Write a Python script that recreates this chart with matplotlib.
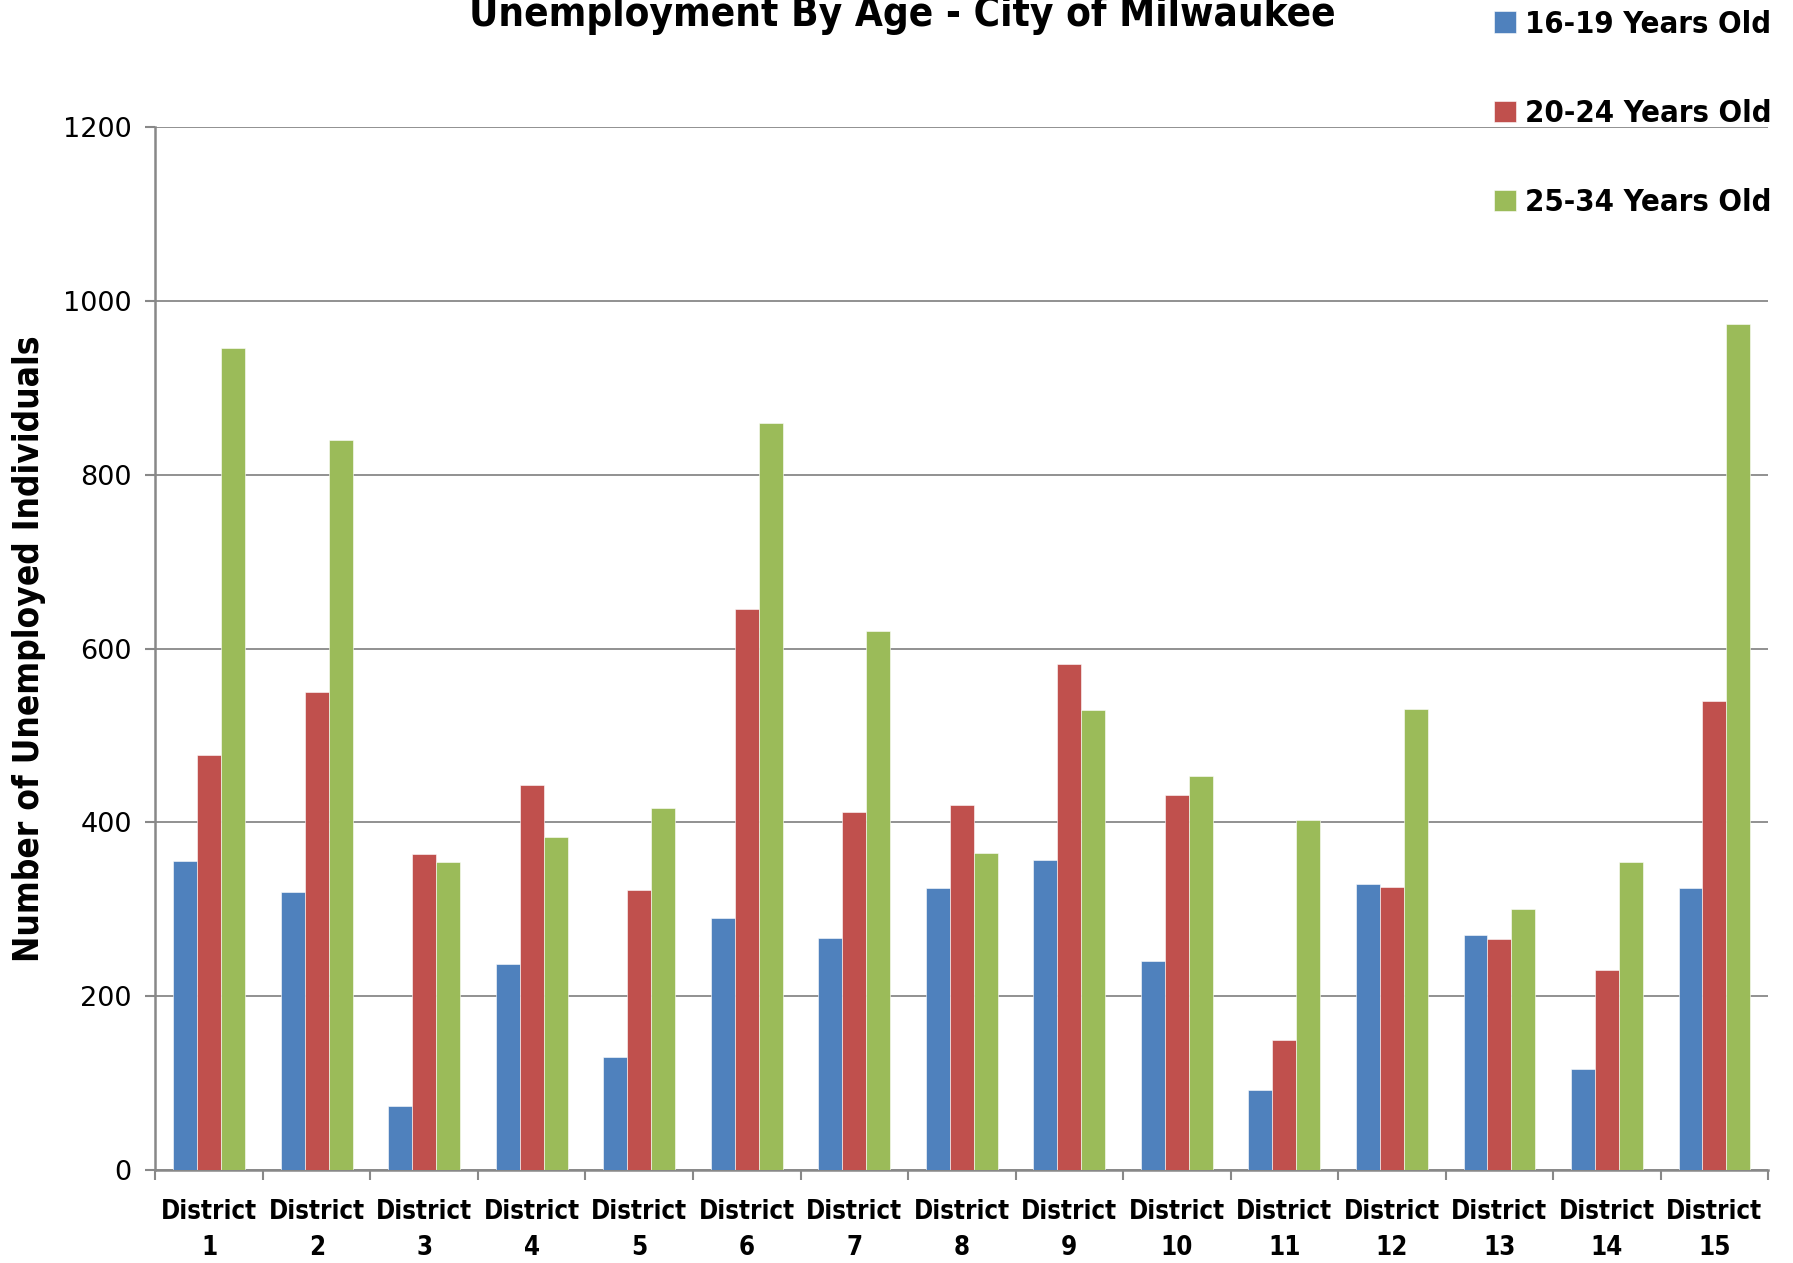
import matplotlib
matplotlib.use("Agg")
import matplotlib.pyplot as plt
from matplotlib import font_manager as fm
import numpy as np

# Data
districts = [f"District\n{i}" for i in range(1, 16)]
age_16_19 = [355, 320, 74, 237, 130, 290, 267, 324, 357, 241, 92, 329, 271, 116, 325]
age_20_24 = [478, 550, 364, 443, 322, 646, 412, 420, 582, 432, 150, 326, 266, 230, 540]
age_25_34 = [946, 840, 354, 383, 416, 859, 620, 365, 529, 453, 403, 530, 300, 354, 973]
series_labels = ["16-19 Years Old", "20-24 Years Old", "25-34 Years Old"]
colors = ["#4F81BD", "#C0504D", "#9BBB59"]


def condensed_bold():
    """Find a condensed bold face, else fall back to DejaVu Sans bold."""
    for key in ("DejaVuSansCondensed-Bold", "LiberationSansNarrow-Bold."):
        for f in fm.fontManager.ttflist:
            if key in f.fname:
                return f.fname, 1.0
    return None, 0.88


def fp(size, fname, scale):
    if fname:
        return fm.FontProperties(fname=fname, size=size)
    return fm.FontProperties(family="DejaVu Sans", weight="bold", size=size * scale)


def main():
    fname, scale = condensed_bold()

    fig = plt.figure(figsize=(17.93, 12.63), dpi=100)
    ax = fig.add_axes([0.0867, 0.0736, 0.8994, 0.8258])

    x = np.arange(len(districts))
    width = 0.222
    for i, vals in enumerate([age_16_19, age_20_24, age_25_34]):
        ax.bar(x + (i - 1) * width, vals, width, color=colors[i],
               edgecolor="white", linewidth=0.4, label=series_labels[i], zorder=3)

    ax.set_xlim(-0.5, len(districts) - 0.5)
    ax.set_ylim(0, 1200)
    ax.set_yticks(range(0, 1201, 200))
    ax.tick_params(axis="y", labelsize=19.5, length=7, width=1.5, color="#888888", pad=10)
    ax.yaxis.grid(True, color="#888888", linewidth=1.3, zorder=0)

    # category boundaries as ticks, labels at centres
    ax.set_xticks(np.arange(-0.5, len(districts)), minor=False)
    ax.set_xticklabels([])
    ax.set_xticks(x, minor=True)
    ax.set_xticklabels(districts, minor=True, fontproperties=fp(18.5, fname, scale),
                       linespacing=1.5)
    ax.tick_params(axis="x", which="major", length=7, width=1.5, color="#888888")
    ax.tick_params(axis="x", which="minor", length=0, pad=21)

    for side in ["top", "right"]:
        ax.spines[side].set_visible(False)
    for side in ["left", "bottom"]:
        ax.spines[side].set_color("#888888")
        ax.spines[side].set_linewidth(1.8)

    ax.set_ylabel("Number of Unemployed Individuals", fontproperties=fp(25.3, fname, scale))
    ax.yaxis.set_label_coords(-0.068, 0.5)

    fig.text(0.503, 0.988, "Unemployment By Age - City of Milwaukee", ha="center",
             va="center", fontproperties=fp(29, fname, scale))

    ax.legend(loc="upper right", bbox_to_anchor=(1.010, 1.124),
              frameon=False, prop=fp(22.2, fname, scale),
              labelspacing=1.95, handlelength=0.7, handleheight=0.7,
              handletextpad=0.3, borderaxespad=0)

    fig.savefig("out.png", dpi=100)


if __name__ == "__main__":
    main()
